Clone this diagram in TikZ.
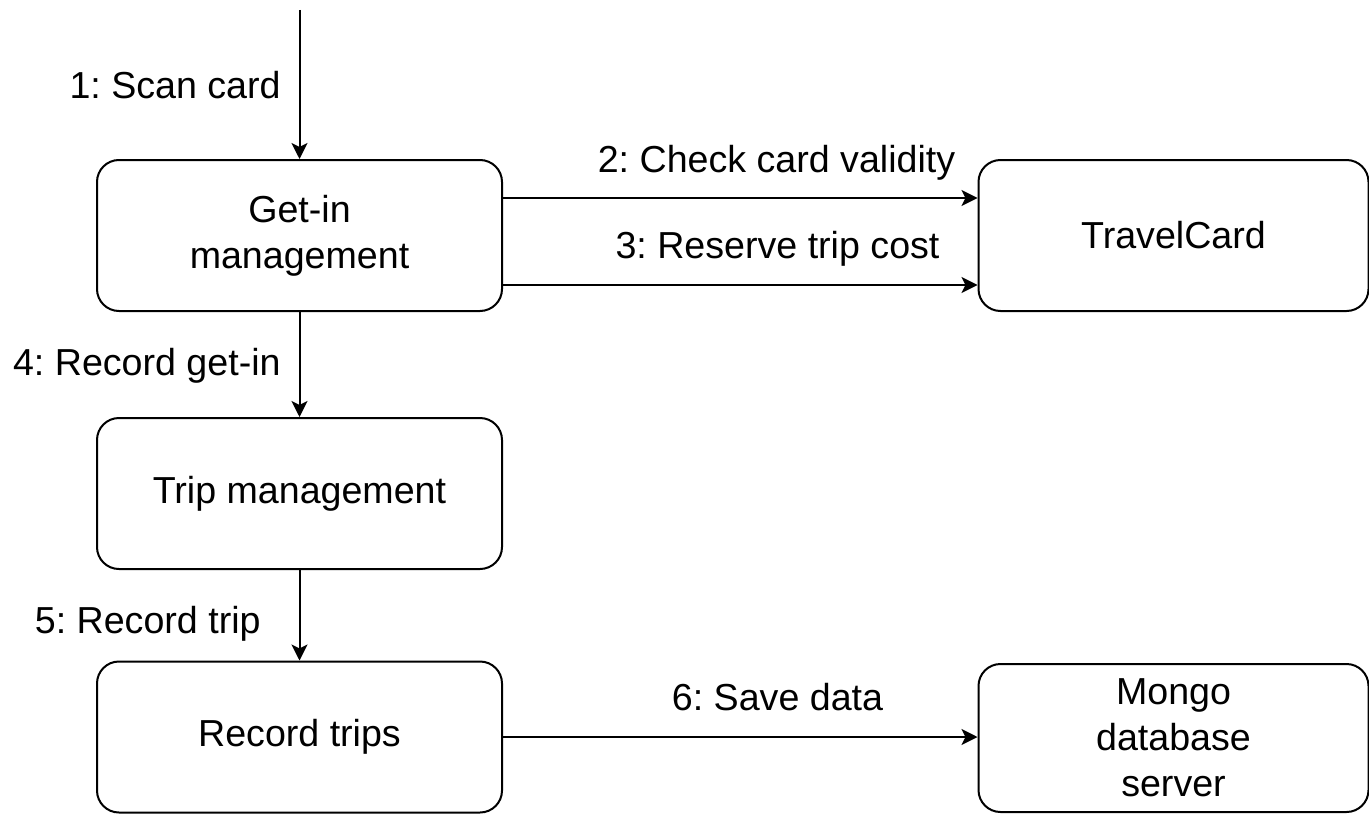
\documentclass[tikz,border=0pt]{standalone}
\usepackage{fontspec}
\setmainfont{Liberation Sans}
\usetikzlibrary{arrows.meta}
\frenchspacing
\begin{document}
\begin{tikzpicture}[x=0.5pt,y=-0.5pt,
  txt/.style={font=\fontsize{18.8}{23}\selectfont, text=black},
  block/.style={txt, draw=black, line width=1pt, rounded corners=11pt,
    minimum width=202.5pt, minimum height=75.5pt, inner sep=0pt, align=center},
  flow/.style={draw=black, line width=1pt,
    -{Stealth[length=8pt,width=8pt,inset=2pt]}},
  lbl/.style={txt, inner sep=0pt}]
\useasboundingbox (0,0) rectangle (1369,813);

% components
\node[block] (getin)  at (299.5,235.5) {Get-in\\management};
\node[block, minimum width=195pt] (travel) at (1173.5,235.5) {TravelCard};
\node[block] (trip)   at (299.5,493.5) {Trip management};
\node[block] (rec)    at (299.5,737)   {Record trips};
\node[block, minimum width=195pt, minimum height=74pt] (mongo) at (1173.5,738) {Mongo\\database\\server};

% incoming call
\coordinate (entry) at (299.5,10);
\draw[flow] (entry) -- (getin.north);

% messages
\draw[flow] ([yshift=18.75pt]getin.east) -- ([yshift=18.75pt]travel.west);
\draw[flow] ([yshift=-24.75pt]getin.east) -- ([yshift=-24.75pt]travel.west);
\draw[flow] (getin.south) -- (trip.north);
\draw[flow] (trip.south) -- (rec.north);
\draw[flow] (rec.east) -- (rec.east -| mongo.west);

% message labels
\node[lbl, anchor=base east] (l1) at (281,98)  {1: Scan card};
\node[lbl, anchor=base]      (l2) at (776.5,172) {2: Check card validity};
\node[lbl, anchor=base]      (l3) at (777.5,258) {3: Reserve trip cost};
\node[lbl, anchor=base east] (l4) at (281,375) {4: Record get-in};
\node[lbl, anchor=base east] (l5) at (261,633) {5: Record trip};
\node[lbl, anchor=base]      (l6) at (777.5,710) {6: Save data};
\end{tikzpicture}
\end{document}
